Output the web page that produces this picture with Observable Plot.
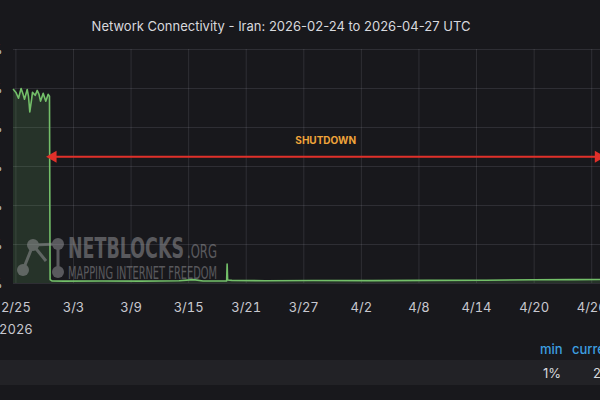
<!DOCTYPE html>
<html>
<head>
<meta charset="utf-8">
<script src="https://cdn.jsdelivr.net/npm/d3@7"></script>
<script src="https://cdn.jsdelivr.net/npm/@observablehq/plot@0.6"></script>
<style>
  html, body { margin: 0; padding: 0; background: #18181c; }
  #wrap { position: relative; width: 600px; height: 400px; overflow: hidden; background: #18181c; font-family: Inter, "Noto Sans", sans-serif; }
  #title { position: absolute; left: 0; top: 18px; width: 562px; text-align: center; color: #d8d9de; font-size: 13px; }
  #chart { position: absolute; left: -45px; top: 40px; width: 660px; }
  #chart svg { max-width: none !important; }
  #band { position: absolute; left: 0; top: 360px; width: 600px; height: 25px; background: #222226; }
  .lg { position: absolute; font-size: 13px; }
  #wm { position: absolute; left: 0; top: 0; pointer-events: none; }
</style>
</head>
<body>
<div id="wrap">
  <div id="title"></div>
  <div id="chart"></div>
  <div id="band"></div>
  <svg id="wm" width="600" height="400"></svg>
</div>
<script>
// ---- data ----
const titleText = "Network Connectivity - Iran: 2026-02-24 to 2026-04-27 UTC";
const domainStart = "2026-02-24T18:00Z";
const domainEnd = "2026-04-27T18:00Z";

const times = [
  "2026-02-24T18:00Z","2026-02-25T00:00Z","2026-02-25T06:30Z","2026-02-25T13:00Z","2026-02-25T18:00Z",
  "2026-02-25T21:30Z","2026-02-26T04:15Z","2026-02-26T07:30Z","2026-02-26T10:45Z","2026-02-26T15:00Z",
  "2026-02-26T17:30Z","2026-02-27T00:15Z","2026-02-27T05:15Z","2026-02-27T09:45Z","2026-02-27T13:30Z",
  "2026-02-27T20:15Z","2026-02-28T02:45Z","2026-02-28T08:45Z","2026-02-28T12:00Z","2026-02-28T13:30Z",
  "2026-02-28T18:00Z","2026-03-02T00:00Z","2026-03-06T00:00Z","2026-03-10T00:00Z","2026-03-14T00:00Z",
  "2026-03-15T12:00Z","2026-03-16T12:00Z","2026-03-18T23:00Z","2026-03-19T00:15Z","2026-03-19T01:30Z",
  "2026-03-19T12:00Z","2026-03-23T00:00Z","2026-03-28T00:00Z","2026-04-03T00:00Z","2026-04-09T00:00Z",
  "2026-04-15T00:00Z","2026-04-20T00:00Z","2026-04-24T00:00Z","2026-04-27T18:00Z"
];
const connectivity = [
  99.5, 98, 95, 100, 97,
  94.5, 99.5, 96, 88, 94,
  98, 96.5, 99, 97, 93.5,
  97.5, 93.5, 97, 96, 2,
  1.3, 1.2, 1.3, 1.2, 1.4,
  2.0, 1.3, 1.3, 10, 1.8,
  1.6, 1.4, 1.5, 1.5, 1.6,
  1.7, 1.9, 2.0, 2.1
];

const xTicks = ["2026-02-25","2026-03-03","2026-03-09","2026-03-15","2026-03-21","2026-03-27",
                "2026-04-02","2026-04-08","2026-04-14","2026-04-20","2026-04-26"];
const xTickLabels = ["2/25\n2026","3/3","3/9","3/15","3/21","3/27","4/2","4/8","4/14","4/20","4/26"];
const yTicks = [0, 20, 40, 60, 80, 100, 120];

const annotStart = ["2026-02-28T13:30Z"];
const annotEnd = ["2026-04-27T00:00Z"];
const annotLevel = [65];
const annotLabel = ["SHUTDOWN"];

const legendHeaders = ["min", "current"];
const legendValues = ["1%", "2%"];

// ---- build ----
const data = times.map((t, i) => ({t: new Date(t), v: connectivity[i]}));
const tickDates = xTicks.map(d => new Date(d + "T00:00Z"));
const annot = annotStart.map((s, i) => ({
  s: new Date(s), e: new Date(annotEnd[i]), y: annotLevel[i], label: annotLabel[i],
  mid: new Date((new Date(s).getTime() + new Date(annotEnd[i]).getTime()) / 2)
}));

document.getElementById("title").textContent = titleText;

const green = "#73bf69";
const red = "#e0302a";
const gridColor = "#ccccdc";

const chart = Plot.plot({
  width: 660,
  height: 296,
  marginLeft: 58,
  marginRight: 7,
  marginTop: 9,
  marginBottom: 53,
  style: {background: "transparent", color: "#c8c8d0", fontFamily: "Inter, 'Noto Sans', sans-serif", fontSize: "13px"},
  x: {type: "utc", domain: [new Date(domainStart), new Date(domainEnd)]},
  y: {domain: [0, 120]},
  marks: [
    Plot.gridX(tickDates, {stroke: gridColor, strokeOpacity: 0.13, strokeWidth: 1}),
    Plot.gridY(yTicks, {stroke: gridColor, strokeOpacity: 0.13, strokeWidth: 1}),
    Plot.axisX(tickDates, {
      tickSize: 0, tickPadding: 13, label: null, lineHeight: 1.7,
      tickFormat: (d) => xTickLabels[tickDates.findIndex(t => +t === +d)],
      fill: "#c8c8d0", fontSize: 13
    }),
    Plot.axisY(yTicks, {tickSize: 0, tickPadding: 11, label: null, tickFormat: d => d + "%", fill: "#c8c8d0", fontSize: 13}),
    Plot.areaY(data, {x: "t", y: "v", fill: green, fillOpacity: 0.17}),
    Plot.lineY(data, {x: "t", y: "v", stroke: green, strokeWidth: 1.6}),
    Plot.link(annot, {x1: "s", x2: "e", y1: "y", y2: "y", stroke: red, strokeWidth: 2}),
    Plot.dot(annot, {x: "s", y: "y", symbol: "triangle", r: 4.5, fill: red, stroke: null, rotate: -90, dx: 3}),
    Plot.dot(annot, {x: "e", y: "y", symbol: "triangle", r: 4.5, fill: red, stroke: null, rotate: 90, dx: -3}),
    Plot.text(annot, {x: "mid", y: "y", text: "label", dy: -16, fill: "#f0a43a", fontWeight: "bold", fontSize: 10})
  ]
});
document.getElementById("chart").appendChild(chart);

// legend table
const wrap = document.getElementById("wrap");
const hdrPos = [540, 572];
legendHeaders.forEach((h, i) => {
  const el = document.createElement("div");
  el.className = "lg";
  el.textContent = h;
  el.style.left = hdrPos[i] + "px";
  el.style.top = "341px";
  el.style.color = "#3d9fe0";
  el.style.fontWeight = "500";
  el.style.whiteSpace = "nowrap";
  wrap.appendChild(el);
});
legendValues.forEach((v, i) => {
  const el = document.createElement("div");
  el.className = "lg";
  el.textContent = v;
  el.style.left = (i === 0 ? 543 : 593) + "px";
  el.style.top = "365px";
  el.style.color = "#d8d9de";
  el.style.whiteSpace = "nowrap";
  wrap.appendChild(el);
});

// NetBlocks watermark (decoration)
const wm = d3.select("#wm").append("g").attr("opacity", 0.5);
const gcol = "#9a9a9e";
const nodes = [[33,245],[58,244],[23,270],[58,272]];
const edges = [[0,1],[0,2],[1,3],[0,[46,261]]];
edges.forEach(([a,b]) => {
  const p = nodes[a], q = Array.isArray(b) ? b : nodes[b];
  wm.append("line").attr("x1", p[0]).attr("y1", p[1]).attr("x2", q[0]).attr("y2", q[1])
    .attr("stroke", gcol).attr("stroke-width", 3);
});
nodes.forEach(([x,y]) => wm.append("circle").attr("cx", x).attr("cy", y).attr("r", 6).attr("fill", gcol));
const wmFont = "'Liberation Sans Narrow', 'DejaVu Sans Condensed', sans-serif";
wm.append("text").attr("x", 68).attr("y", 258).attr("fill", gcol)
  .attr("font-family", wmFont)
  .attr("font-weight", "bold").attr("font-size", 28).attr("textLength", 116).attr("lengthAdjust", "spacingAndGlyphs")
  .text("NETBLOCKS");
wm.append("text").attr("x", 187).attr("y", 258).attr("fill", gcol)
  .attr("font-family", wmFont)
  .attr("font-size", 19).attr("textLength", 30).attr("lengthAdjust", "spacingAndGlyphs")
  .text(".ORG");
wm.append("text").attr("x", 68).attr("y", 279).attr("fill", gcol)
  .attr("font-family", wmFont)
  .attr("font-size", 18).attr("textLength", 149).attr("lengthAdjust", "spacingAndGlyphs")
  .text("MAPPING INTERNET FREEDOM");
</script>
</body>
</html>
